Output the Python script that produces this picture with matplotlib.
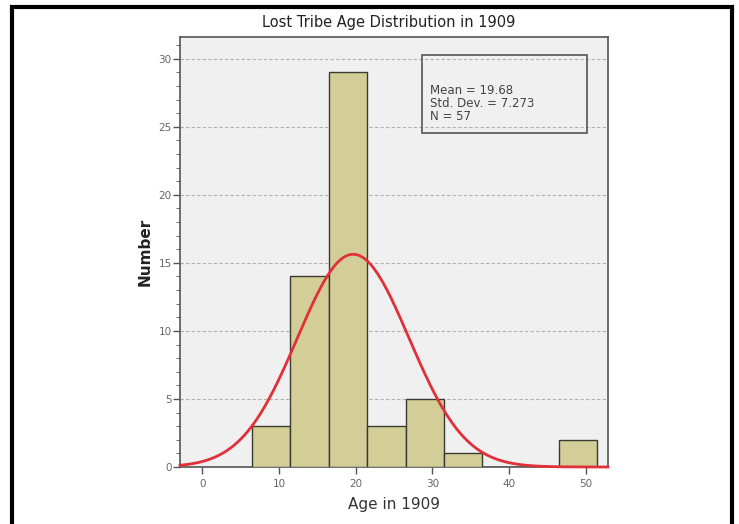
import numpy as np
import matplotlib
matplotlib.use("Agg")
import matplotlib.pyplot as plt
from matplotlib.ticker import MultipleLocator
from matplotlib.patches import Rectangle

# histogram of ages (bins of width 5)
bin_edges = [6.5, 11.5, 16.5, 21.5, 26.5, 31.5, 36.5, 41.5, 46.5, 51.5]
counts = [3, 14, 29, 3, 5, 1, 0, 0, 2]
mean_age = 19.68
std_dev = 7.273
n_total = 57

fig = plt.figure(figsize=(7.39, 5.24), dpi=100)
ax = fig.add_axes([180 / 739, 57 / 524, 428 / 739, 430 / 524])
ax.set_facecolor('#f0f0f0')

# outer frame
fig.patches.append(Rectangle((12 / 739, -0.05), 720 / 739, 1.05 - 7 / 524,
                             transform=fig.transFigure, fill=False,
                             edgecolor='black', linewidth=3))

widths = np.diff(bin_edges)
ax.bar(bin_edges[:-1], counts, width=widths, align='edge',
       color='#d3ce98', edgecolor='#3a3a30', linewidth=1.0, zorder=3)

# normal curve scaled to counts
xs = np.linspace(-2.9, 52.9, 400)
bw = widths[0]
ys = n_total * bw / (std_dev * np.sqrt(2 * np.pi)) * np.exp(-0.5 * ((xs - mean_age) / std_dev) ** 2)
ax.plot(xs, ys, color='#e0303a', linewidth=2, zorder=4, clip_on=False)

ax.set_xlim(-2.9, 52.9)
ax.set_ylim(0, 31.6)
ax.set_xticks([0, 10, 20, 30, 40, 50])
ax.yaxis.set_major_locator(MultipleLocator(5))
ax.yaxis.set_minor_locator(MultipleLocator(1))
ax.tick_params(axis='both', which='major', length=5, color='#555555',
               labelcolor='#666666', labelsize=7.5, width=1)
ax.tick_params(axis='y', which='minor', length=3, color='#555555')
ax.tick_params(axis='y', pad=1)
ax.yaxis.grid(True, which='major', linestyle=(0, (3, 2)), color='#b0b0b0',
              linewidth=0.8, zorder=0)
for s in ax.spines.values():
    s.set_color('#555555')
    s.set_linewidth(1.2)

ax.set_xlabel('Age in 1909', fontsize=11, color='#333333', labelpad=6)
ax.set_ylabel('Number', fontsize=11, fontweight='bold', color='#222222', labelpad=4)
fig.text(0.526, 0.958, 'Lost Tribe Age Distribution in 1909', ha='center',
         va='center', fontsize=10.5, color='#222222')

# stats box
ax.add_patch(Rectangle((0.565, 0.777), 0.386, 0.181, transform=ax.transAxes,
                       fill=False, edgecolor='#555555', linewidth=1.2, zorder=5))
ax.text(0.583, 0.845, 'Mean = %.2f\nStd. Dev. = %.3f\nN = %d' % (mean_age, std_dev, n_total),
        transform=ax.transAxes, fontsize=8.5, color='#444444', va='center',
        linespacing=1.0, zorder=6)

fig.savefig('out.png', dpi=100)
